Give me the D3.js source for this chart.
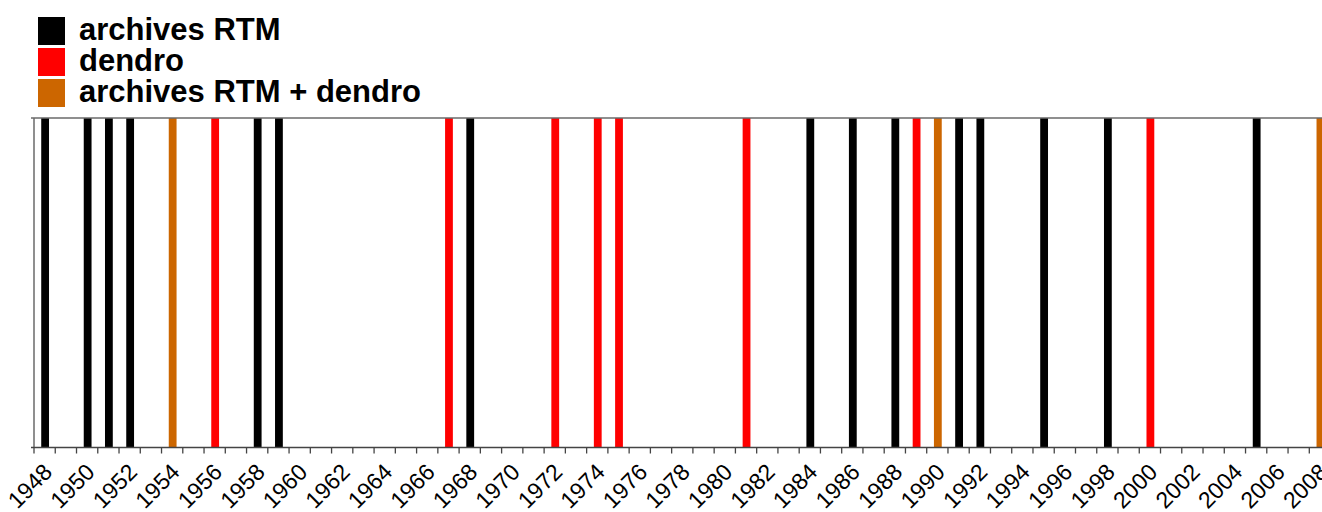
<!DOCTYPE html>
<html>
<head>
<meta charset="utf-8">
<script src="https://cdn.jsdelivr.net/npm/d3@7"></script>
<style>
  body { margin: 0; background: #fff; overflow: hidden; }
  svg { display: block; font-family: "Liberation Sans", Arial, sans-serif; }
</style>
</head>
<body>
<svg id="chart" width="1322" height="512"></svg>
<script>
// years shown on the axis (one band per year)
var years = [1948,1949,1950,1951,1952,1953,1954,1955,1956,1957,1958,1959,1960,1961,1962,1963,1964,1965,1966,1967,
             1968,1969,1970,1971,1972,1973,1974,1975,1976,1977,1978,1979,1980,1981,1982,1983,1984,1985,1986,1987,
             1988,1989,1990,1991,1992,1993,1994,1995,1996,1997,1998,1999,2000,2001,2002,2003,2004,2005,2006,2007,2008];
var tickLabels = years.filter(function(y) { return y % 2 === 0; });

// event years and their source
var eventYears = [1948,1950,1951,1952,1954,1956,1958,1959,1967,1968,1972,1974,1975,1981,
                  1984,1986,1988,1989,1990,1991,1992,1995,1998,2000,2005,2008];
var eventTypes = ["rtm","rtm","rtm","rtm","both","dendro","rtm","rtm","dendro","rtm","dendro","dendro","dendro","dendro",
                  "rtm","rtm","rtm","dendro","both","rtm","rtm","rtm","rtm","dendro","rtm","both"];

var typeKeys = ["rtm", "dendro", "both"];
var typeNames = ["archives RTM", "dendro", "archives RTM + dendro"];
var typeColors = ["#000000", "#ff0000", "#cc6600"];

var svg = d3.select("#chart");
var plotTop = 118, plotBottom = 447.5, plotLeft = 34;
var step = 21.255;

var x = d3.scaleBand()
    .domain(years)
    .range([plotLeft, plotLeft + step * years.length])
    .padding(0);

var color = d3.scaleOrdinal().domain(typeKeys).range(typeColors);

var bw = 7.8;

// bars
svg.append("g").selectAll("rect")
    .data(eventYears)
    .join("rect")
    .attr("x", function(d) { return x(d) + x.bandwidth() / 2 - bw / 2 + 0.5; })
    .attr("y", plotTop)
    .attr("width", bw)
    .attr("height", plotBottom - plotTop)
    .attr("fill", function(d, i) { return color(eventTypes[i]); });

// frame lines
svg.append("line")
    .attr("x1", plotLeft - 3).attr("x2", 1322)
    .attr("y1", plotTop).attr("y2", plotTop)
    .attr("stroke", "#6a6a6a").attr("stroke-width", 1.5);
svg.append("line")
    .attr("x1", plotLeft).attr("x2", plotLeft)
    .attr("y1", plotTop).attr("y2", plotBottom)
    .attr("stroke", "#6a6a6a").attr("stroke-width", 1.5);

// x axis: a tick at each band edge
var axis = svg.append("g");
axis.append("line")
    .attr("x1", plotLeft - 3).attr("x2", 1322)
    .attr("y1", plotBottom).attr("y2", plotBottom)
    .attr("stroke", "#444").attr("stroke-width", 1.5);
axis.selectAll("line.tick")
    .data(years)
    .join("line")
    .attr("class", "tick")
    .attr("x1", function(d) { return x(d); })
    .attr("x2", function(d) { return x(d); })
    .attr("y1", plotBottom)
    .attr("y2", plotBottom + 6)
    .attr("stroke", "#444").attr("stroke-width", 1.3);

axis.selectAll("text")
    .data(tickLabels)
    .join("text")
    .attr("transform", function(d) {
        return "translate(" + (x(d) + x.bandwidth() / 2 + 9) + "," + (plotBottom + 26) + ") rotate(-45)";
    })
    .attr("text-anchor", "end")
    .attr("font-size", 23)
    .attr("fill", "#000")
    .text(function(d) { return d; });

// legend
var legend = svg.append("g").attr("transform", "translate(38,17)");
var item = legend.selectAll("g")
    .data(typeKeys)
    .join("g")
    .attr("transform", function(d, i) { return "translate(0," + (i * 31) + ")"; });
item.append("rect")
    .attr("width", 27).attr("height", 28)
    .attr("fill", function(d) { return color(d); });
item.append("text")
    .attr("x", 41).attr("y", 22.5)
    .attr("font-size", 31)
    .attr("font-weight", "bold")
    .attr("fill", "#000")
    .text(function(d, i) { return typeNames[i]; });
</script>
</body>
</html>
